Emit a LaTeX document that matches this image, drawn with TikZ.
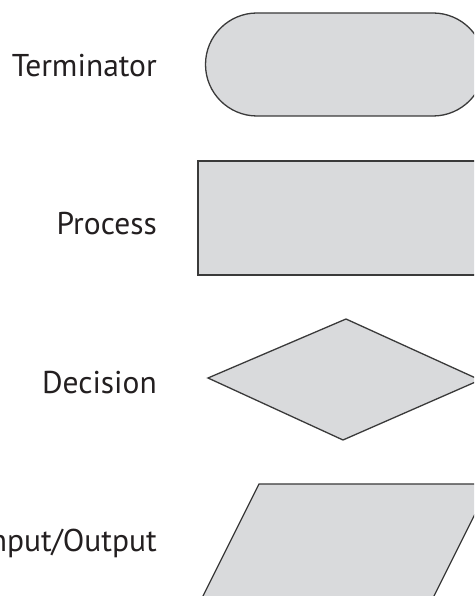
\documentclass[tikz,border=0pt]{standalone}
\usepackage{fontspec}
\setmainfont{PT Sans}
\definecolor{shapefill}{HTML}{D9DADC}
\definecolor{shapeline}{HTML}{3A3A3A}
\definecolor{labeltext}{HTML}{231F20}
\tikzset{
  symbol/.style={draw=shapeline, fill=shapefill, line width=1.3pt, line join=miter},
  label text/.style={anchor=base east, inner sep=0pt, text=labeltext, font=\fontsize{31.5}{37}\selectfont}
}
\begin{document}
\begin{tikzpicture}[x=1pt,y=1pt]
  \useasboundingbox (0,0) rectangle (474,596);
  \clip (0,0) rectangle (474,596);
  \fill[white] (0,0) rectangle (474,596);
  % Terminator
  \draw[symbol] (257,583) -- (433,583) arc[start angle=90, end angle=-90, radius=51.5]
     -- (257,480) arc[start angle=270, end angle=90, radius=51.5] -- cycle;
  % Process
  \draw[symbol] (198,435) rectangle (530,321);
  % Decision
  \draw[symbol] (208,218) -- (346,277) -- (480,216) -- (343,156) -- cycle;
  % Input/Output
  \draw[symbol] (259,112) -- (490,112) -- (432,-4) -- (201,-4) -- cycle;
  % Labels
  \node[label text] (lterm) at (157,519) {Terminator};
  \node[label text] (lproc) at (157,361) {Process};
  \node[label text] (ldec) at (157,202) {Decision};
  \node[label text] (lio) at (157,44) {Input/Output};
\end{tikzpicture}
\end{document}
